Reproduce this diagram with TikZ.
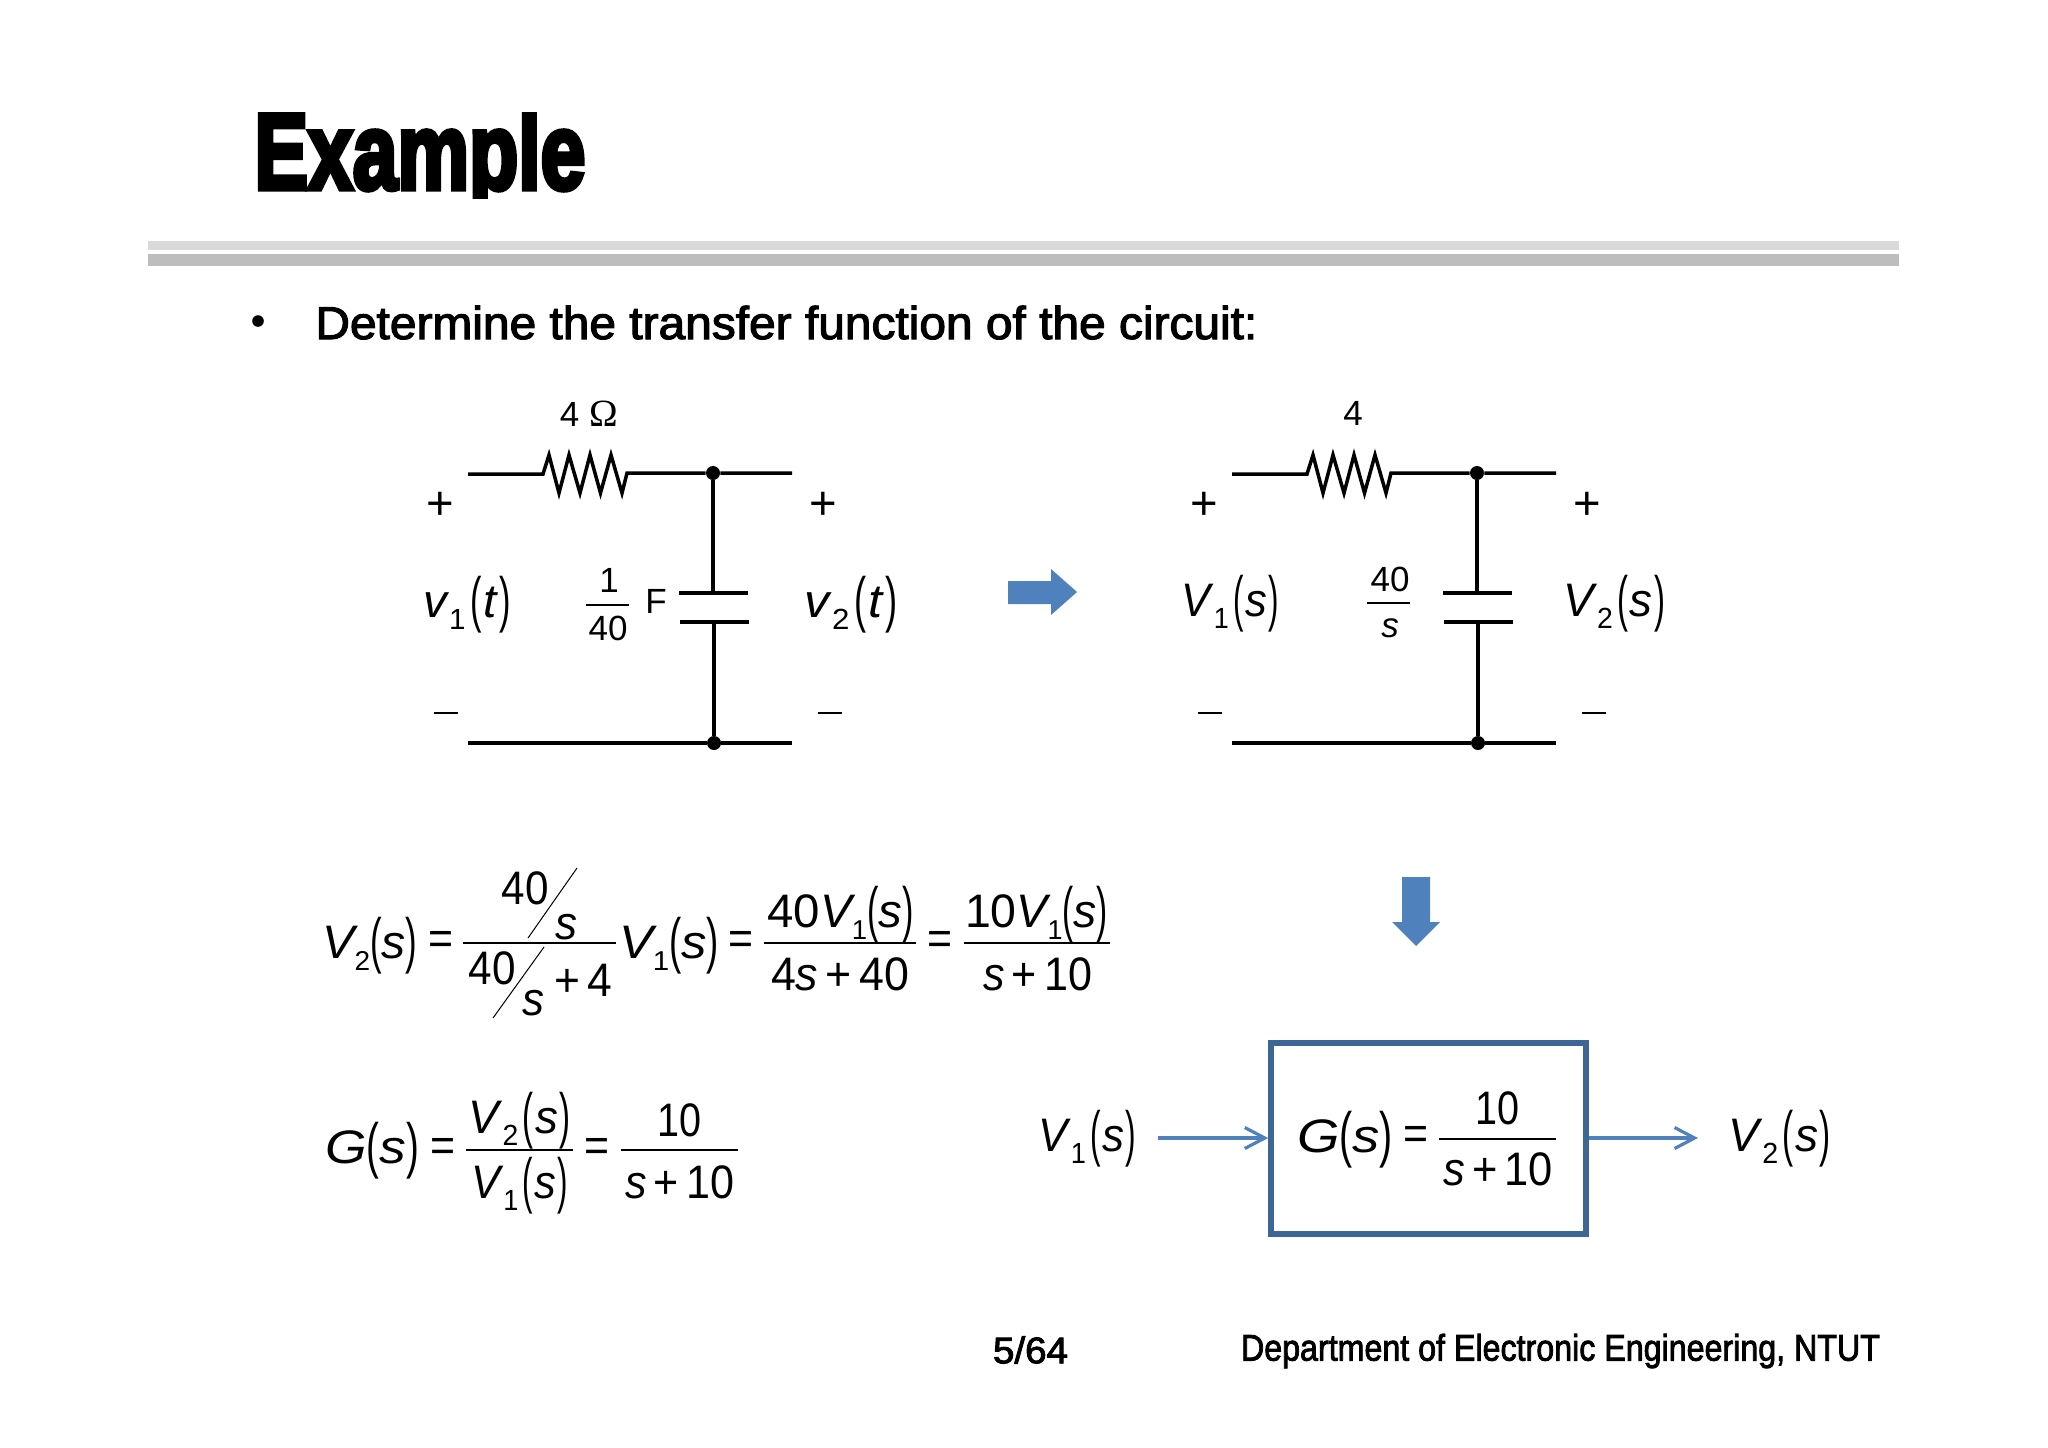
\documentclass[tikz,border=0pt]{standalone}
\usepackage{fontspec}
\usepackage{graphicx}
\setmainfont{Liberation Sans}
\newfontfamily\titlefont{Liberation Sans Bold}[FakeBold=5]
\newfontfamily\headfont{Liberation Sans}[FakeBold=2.4]
\newfontfamily\omegafont{Liberation Serif}
\usetikzlibrary{arrows.meta}
\definecolor{arrowblue}{HTML}{4F81BD}
\definecolor{boxblue}{HTML}{3C6696}
\newcommand\fit[2]{\resizebox{\dimexpr #1pt/2\relax}{\height}{#2}}
\newcommand\tp[1]{\raisebox{-.07em}{\scalebox{.72}[1.3]{#1}}}
\newcommand\Fn[3]{\textit{#1}\ifx&#2&\else\kern-.08em\raisebox{-.26em}{\scalebox{.58}{#2}}\fi\tp{(}\textit{#3}\tp{)}}
\newcommand\cpar[3]{\textit{#1}\raisebox{-.26em}{\scalebox{.62}{#2}}\kern.1em\tp{(}\kern.03em\textit{#3}\kern.03em\tp{)}}
\tikzset{
  eq/.style={inner sep=0pt,font=\fontsize{23.5}{26}\selectfont,text=black},
  cl/.style={inner sep=0pt,font=\fontsize{17.5}{20}\selectfont,text=black},
  wire/.style={line width=1.75pt,black},
  fracline/.style={line width=.8pt,black},
  dot/.style={circle,fill=black,inner sep=0pt,minimum size=7pt},
  flow/.style={line width=1.6pt,arrowblue,-{Straight Barb[length=10pt,width=10.5pt,line width=1.6pt]}},
  block/.style={fill=arrowblue,draw=none},
  foot/.style={inner sep=0pt,font=\headfont\fontsize{18.5}{21}\selectfont},
}
\newcommand\circuit[2]{%
  \begin{scope}[shift={(#2,0)}]
  \coordinate (#1tl) at (468,474);
  \coordinate (#1ra) at (543,474);
  \coordinate (#1rb) at (627,473);
  \node[dot] (#1jt) at (713,473) {};
  \coordinate (#1tr) at (792,473);
  \coordinate (#1bl) at (468,743);
  \node[dot] (#1jb) at (714,743) {};
  \coordinate (#1br) at (792,743);
  \coordinate (#1pa) at (713,593);
  \coordinate (#1pb) at (714,621);
  \coordinate (#1al) at (679,593);
  \coordinate (#1ar) at (748,593);
  \coordinate (#1bbl) at (680,622);
  \coordinate (#1bbr) at (749,622);
  \draw[wire] (#1tl) -- (#1ra) -- (549,455) -- (559,493) -- (569,455) -- (580,493) -- (590,455) -- (600.5,493) -- (611,455) -- (622,493) -- (#1rb) -- (#1jt) -- (#1tr);
  \draw[wire] (#1bl) -- (#1jb) -- (#1br);
  \draw[wire] (#1jt) -- (#1pa);
  \draw[wire] (#1pb) -- (#1jb);
  \draw[wire] (#1al) -- (#1ar);
  \draw[wire] (#1bbl) -- (#1bbr);
  \node[cl] (#1pl) at (440,506) {\scalebox{1.35}{+}};
  \node[cl] (#1pr) at (823,506) {\scalebox{1.35}{+}};
  \node[cl] (#1ml) at (446,713) {\rule{12pt}{.8pt}};
  \node[cl] (#1mr) at (830,713) {\rule{12pt}{.8pt}};
  \end{scope}}
\begin{document}
\begin{tikzpicture}[x=0.5pt,y=-0.5pt]
\useasboundingbox (0,0) rectangle (2048,1447);
\fill[white] (0,0) rectangle (2048,1447);
% title
\begin{scope}
\clip (240,112) rectangle (600,198);
\node[inner sep=0pt,anchor=base west] (title) at (254,189) {\resizebox{165.5pt}{\height}{\titlefont\fontsize{54}{60}\selectfont Example}};
\end{scope}
\fill[gray!30] (148,241) rectangle (1899,250);
\fill[gray!52] (148,254) rectangle (1899,266);
\node[inner sep=0pt] (bullet) at (258,321) {\tikz[baseline=-.5ex]\fill circle (2.9pt);};
\node[inner sep=0pt,anchor=base west] (head) at (315,339) {\resizebox{471pt}{\height}{\headfont\fontsize{23}{26}\selectfont Determine the transfer function of the circuit:}};

% circuit 1
\circuit{a}{0}
\node[cl] (a4) at (589,414) {4\,\kern.12em{\omegafont\scalebox{1.1}{Ω}}};
\node[eq] (av1) at (467,605) {\fit{88}{\cpar{v}{1}{t}}};
\draw[fracline] (586,605) -- (629,605);
\node[cl] (a1) at (609,580) {1};
\node[cl] (a40) at (608,628) {40};
\node[cl] (aF) at (656,601) {F};
\node[eq] (av2) at (851,605) {\fit{93}{\cpar{v}{2}{t}}};

% circuit 2
\circuit{b}{764}
\node[cl] (b4) at (1353,413) {4};
\node[eq] (bV1) at (1230,604) {\fit{97}{\cpar{V}{1}{s}}};
\draw[fracline] (1367,603) -- (1410,603);
\node[cl] (b40) at (1390,579) {40};
\node[cl] (bs) at (1390,628) {\textit{s}};
\node[eq] (bV2) at (1614,604) {\fit{102}{\cpar{V}{2}{s}}};

% block arrows
\fill[block] (1008,581) -- (1051,581) -- (1051,569) -- (1077,592) -- (1051,615) -- (1051,604) -- (1008,604) -- cycle;
\fill[block] (1402,877) -- (1430,877) -- (1430,922) -- (1440,922) -- (1416,946) -- (1392,922) -- (1402,922) -- cycle;

% equation 1
\node[eq] (e1a) at (370,946) {\fit{95}{\Fn{V}{2}{s}}};
\node[eq] (e1b) at (441,943) {\fit{25}{=}};
\draw[fracline] (463,943) -- (616,943);
\node[eq] (e1c) at (525,888) {\fit{47}{40}};
\draw[line width=.5pt] (577,868) -- (528,938);
\node[eq] (e1d) at (566,927) {\fit{22}{\textit{s}}};
\node[eq] (e1e) at (492,968) {\fit{47}{40}};
\draw[line width=.5pt] (544,947) -- (493,1018);
\node[eq] (e1f) at (533,1003) {\fit{22}{\textit{s}}};
\node[eq] (e1g) at (583,980) {\fit{58}{+\,4}};
\node[eq] (e1h) at (669,946) {\fit{100}{\Fn{V}{1}{s}}};
\node[eq] (e1i) at (740.5,943) {\fit{25}{=}};
\draw[fracline] (764,943) -- (916,943);
\node[eq] (e1j) at (840.5,915) {\fit{146}{40\Fn{V}{1}{s}}};
\node[eq] (e1k) at (840,974) {\fit{138}{4\textit{s}\,+\,40}};
\node[eq] (e1l) at (939.5,943) {\fit{25}{=}};
\draw[fracline] (964,943) -- (1110,943);
\node[eq] (e1m) at (1036.5,915) {\fit{143}{10\Fn{V}{1}{s}}};
\node[eq] (e1n) at (1037.5,974) {\fit{109}{\textit{s}\,+\,10}};

% equation 2
\node[eq] (e2a) at (372,1151) {\fit{94}{\Fn{G}{}{s}}};
\node[eq] (e2b) at (443,1150) {\fit{25}{=}};
\draw[fracline] (466,1150) -- (573,1150);
\node[eq] (e2c) at (519.5,1121) {\fit{102}{\cpar{V}{2}{s}}};
\node[eq] (e2d) at (519.5,1186) {\fit{97}{\cpar{V}{1}{s}}};
\node[eq] (e2e) at (597,1150) {\fit{25}{=}};
\draw[fracline] (621,1150) -- (738,1150);
\node[eq] (e2f) at (679.5,1120) {\fit{44}{10}};
\node[eq] (e2g) at (679.5,1182) {\fit{109}{\textit{s}\,+\,10}};

% block diagram
\node[eq] (inV) at (1087,1139) {\fit{98}{\cpar{V}{1}{s}}};
\node[eq] (outV) at (1779.5,1139) {\fit{103}{\cpar{V}{2}{s}}};
\node[draw=boxblue,line width=2.8pt,fill=white,minimum width=157.5pt,minimum height=95.5pt,inner sep=0pt] (sys) at (1428.5,1138.5) {};
\coordinate (inA) at (1158,1138);
\coordinate (outA) at (1698,1138);
\draw[flow] (inA) -- (sys.west |- inA);
\draw[flow] (sys.east |- outA) -- (outA);
\node[eq] (bG) at (1345,1140) {\fit{96}{\Fn{G}{}{s}}};
\node[eq] (bEq) at (1415.5,1138) {\fit{25}{=}};
\draw[fracline] (1439,1139) -- (1556,1139);
\node[eq] (bn) at (1497,1108) {\fit{44}{10}};
\node[eq] (bd) at (1498,1169) {\fit{110}{\textit{s}\,+\,10}};

% footer
\node[foot] (pg) at (1030.5,1350) {\resizebox{37.5pt}{\height}{5/64}};
\node[foot] (dept) at (1560.5,1351) {\resizebox{319.5pt}{\height}{Department of Electronic Engineering, NTUT}};
\end{tikzpicture}
\end{document}
